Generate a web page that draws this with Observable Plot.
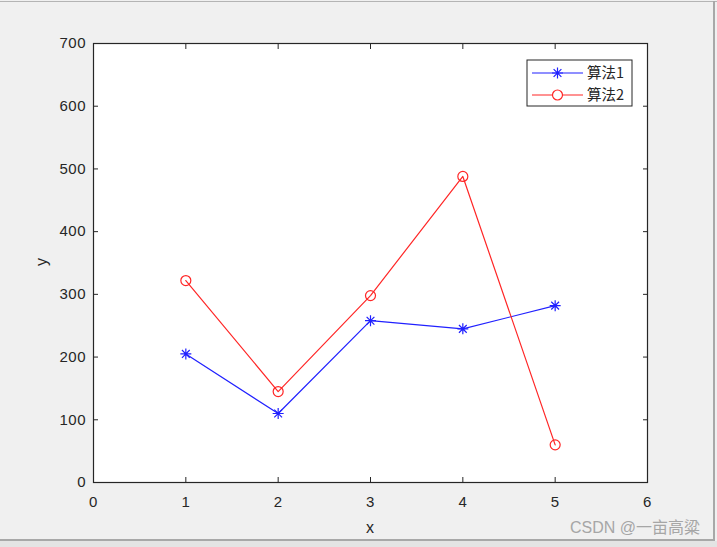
<!DOCTYPE html>
<html><head><meta charset="utf-8">
<script src="https://cdn.jsdelivr.net/npm/d3@7"></script>
<script src="https://cdn.jsdelivr.net/npm/@observablehq/plot@0.6"></script>
<style>
html,body{margin:0;padding:0;background:#f0f0f0;}
#wrap{position:relative;width:717px;height:547px;overflow:hidden;background:#f0f0f0;}
#wrap svg{position:absolute;left:0;top:0;}
#wrap svg text{font-size:15px;letter-spacing:0.5px;font-family:'Liberation Sans', Arial, sans-serif;}
.bt{position:absolute;left:0;top:1px;width:717px;height:1px;background:#b4b4b4;}
.bb{position:absolute;left:0;top:539px;width:714px;height:2px;background:#a8a8a8;}
.bbl{position:absolute;left:0;top:541px;width:717px;height:6px;background:#e4e4e4;}
.br{position:absolute;left:713px;top:1px;width:2px;height:540px;background:#a8a8a8;}
</style>
</head><body>
<div id="wrap"></div>
<script>
const xs = [1, 2, 3, 4, 5];
const algo1 = [205, 110, 258, 245, 282];
const algo2 = [322, 145, 298, 488, 60];
const seriesNames = ["算法1", "算法2"];
const xTicks = [0, 1, 2, 3, 4, 5, 6];
const yTicks = [0, 100, 200, 300, 400, 500, 600, 700];

const data = [];
xs.forEach((x, i) => data.push({x, y: algo1[i], s: seriesNames[0]}));
xs.forEach((x, i) => data.push({x, y: algo2[i], s: seriesNames[1]}));
const d1 = data.filter(d => d.s === seriesNames[0]);
const d2 = data.filter(d => d.s === seriesNames[1]);

const star = {
  draw(ctx, size) {
    const r = Math.sqrt(size / Math.PI);
    const q = r * Math.SQRT1_2;
    ctx.moveTo(-r, 0); ctx.lineTo(r, 0);
    ctx.moveTo(0, -r); ctx.lineTo(0, r);
    ctx.moveTo(-q, -q); ctx.lineTo(q, q);
    ctx.moveTo(-q, q); ctx.lineTo(q, -q);
  }
};
const BLUE = "#2020ff", RED = "#ff2626";
const FONT = "'Liberation Sans', Arial, sans-serif";
const INK = "#262626";

const chart = Plot.plot({
  width: 717, height: 547,
  marginLeft: 93, marginRight: 70, marginTop: 43, marginBottom: 65,
  style: {background: "transparent", fontFamily: FONT, color: INK, overflow: "visible"},
  x: {domain: [0, 6]},
  y: {domain: [0, 700]},
  marks: [
    Plot.frame({fill: "white", stroke: "none"}),
    Plot.axisX(xTicks, {anchor: "bottom", tickSize: -5, tickPadding: 19, label: null, stroke: INK, fill: INK, fontSize: 15}),
    Plot.axisX(xTicks, {anchor: "top", tickSize: -5, tickFormat: () => "", label: null, stroke: INK}),
    Plot.axisY(yTicks, {anchor: "left", tickSize: -5, tickPadding: 12.5, label: null, stroke: INK, fill: INK, fontSize: 15}),
    Plot.axisY(yTicks, {anchor: "right", tickSize: -5, tickFormat: () => "", label: null, stroke: INK}),
    Plot.line(d1, {x: "x", y: "y", stroke: BLUE, strokeWidth: 1.2}),
    Plot.line(d2, {x: "x", y: "y", stroke: RED, strokeWidth: 1.2}),
    Plot.dot(d1, {x: "x", y: "y", symbol: star, r: 5.5, stroke: BLUE, strokeWidth: 1.2}),
    Plot.dot(d2, {x: "x", y: "y", symbol: "circle", r: 5, stroke: RED, strokeWidth: 1.2, fill: "none"}),
    Plot.frame({stroke: INK, strokeWidth: 1.2})
  ]
});
const wrap = document.getElementById("wrap");
wrap.appendChild(chart);

const svg = d3.select(chart);

// axis labels
svg.append("text").attr("x", 370).attr("y", 533).attr("text-anchor", "middle")
  .attr("style", `font-family:${FONT};font-size:16px;letter-spacing:0`).attr("fill", INK).text("x");
svg.append("text").attr("transform", "translate(47,262) rotate(-90)").attr("text-anchor", "middle")
  .attr("style", `font-family:${FONT};font-size:16px;letter-spacing:0`).attr("fill", INK).text("y");

// legend
const lg = svg.append("g").attr("transform", "translate(527,60)");
lg.append("rect").attr("width", 105).attr("height", 46).attr("fill", "white").attr("stroke", INK).attr("stroke-width", 1);
const items = [{name: seriesNames[0], color: BLUE, sym: star, r: 5.5}, {name: seriesNames[1], color: RED, sym: d3.symbolCircle, r: 5}];
items.forEach((it, i) => {
  const y = 13 + i * 22;
  lg.append("line").attr("x1", 5).attr("x2", 56).attr("y1", y).attr("y2", y).attr("stroke", it.color).attr("stroke-width", 1.2);
  lg.append("path").attr("transform", `translate(30.5,${y})`)
    .attr("d", d3.symbol(it.sym, Math.PI * it.r * it.r)())
    .attr("fill", i === 1 ? "white" : "none").attr("stroke", it.color).attr("stroke-width", 1.2);
  lg.append("text").attr("x", 60).attr("y", y).attr("dy", "0.36em").attr("text-anchor", "start")
    .attr("style", "font-family:'Noto Sans CJK SC', sans-serif;font-size:14.5px;letter-spacing:0").attr("fill", INK).text(it.name);
});

// watermark
svg.append("text").attr("x", 700).attr("y", 533).attr("text-anchor", "end")
  .attr("style", "font-family:'Liberation Sans', 'Noto Sans CJK SC', sans-serif;font-size:16px;letter-spacing:0")
  .attr("fill", "#a6a6a6").text("CSDN @一亩高粱");

["bt", "bb", "bbl", "br"].forEach(c => { const d = document.createElement("div"); d.className = c; wrap.appendChild(d); });
</script>
</body></html>
